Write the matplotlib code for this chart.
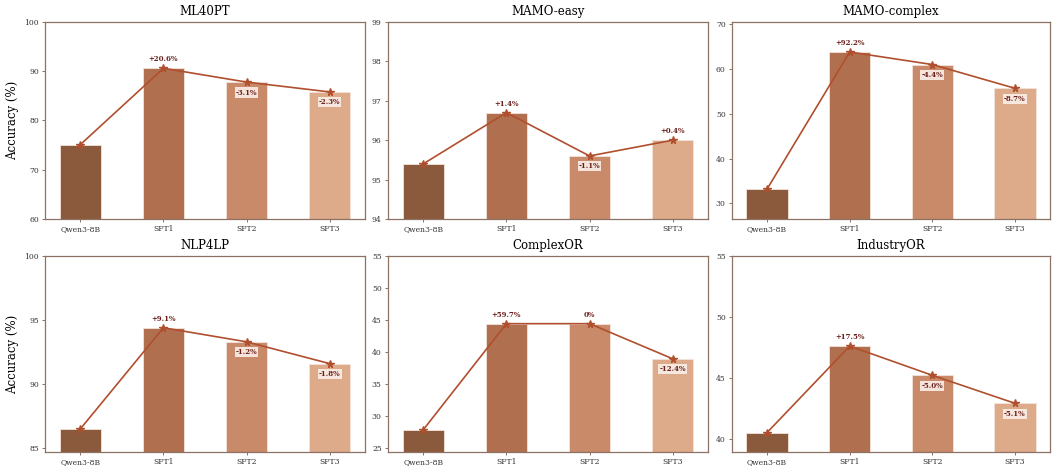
import numpy as np
import matplotlib
matplotlib.use('Agg')
import matplotlib.pyplot as plt

plt.rcParams['font.family'] = 'DejaVu Serif'

models = ['Qwen3-8B', 'SFT1', 'SFT2', 'SFT3']

titles = ['ML40PT', 'MAMO-easy', 'MAMO-complex', 'NLP4LP', 'ComplexOR', 'IndustryOR']

ml40pt = [75.1, 90.6, 87.8, 85.8]
mamo_easy = [95.4, 96.7, 95.6, 96.0]
mamo_complex = [33.2, 63.8, 61.0, 55.7]
nlp4lp = [86.5, 94.4, 93.3, 91.6]
complexor = [27.8, 44.4, 44.4, 38.9]
industryor = [40.5, 47.6, 45.2, 42.9]

ml40pt_labels = ['+20.6%', '-3.1%', '-2.3%']
mamo_easy_labels = ['+1.4%', '-1.1%', '+0.4%']
mamo_complex_labels = ['+92.2%', '-4.4%', '-8.7%']
nlp4lp_labels = ['+9.1%', '-1.2%', '-1.8%']
complexor_labels = ['+59.7%', '0%', '-12.4%']
industryor_labels = ['+17.5%', '-5.0%', '-5.1%']

ylims = [(60, 100), (94, 99), (26.5, 70.5), (84.7, 100), (24.3, 55), (38.9, 55)]
yticks = [[60, 70, 80, 90, 100], [94, 95, 96, 97, 98, 99], [30, 40, 50, 60, 70],
          [85, 90, 95, 100], [25, 30, 35, 40, 45, 50, 55], [40, 45, 50, 55]]

all_vals = [ml40pt, mamo_easy, mamo_complex, nlp4lp, complexor, industryor]
all_labels = [ml40pt_labels, mamo_easy_labels, mamo_complex_labels,
              nlp4lp_labels, complexor_labels, industryor_labels]

bar_colors = ['#8b5a3c', '#b0704f', '#c98a69', '#ddaa8a']
line_color = '#b04f2e'
spine_color = '#8c7264'
text_color = '#6b1f1a'

fig = plt.figure(figsize=(10.52, 4.73), dpi=100)
W, H = 1052, 473
# axes boxes in pixels: left, right, top, bottom
cols = [(45, 365), (388, 708), (732, 1050)]
rows = [(22, 219), (256, 452)]

x = np.arange(len(models))
for i in range(6):
    r, c = divmod(i, 3)
    l, rr = cols[c]
    t, b = rows[r]
    ax = fig.add_axes([l / W, 1 - b / H, (rr - l) / W, (b - t) / H])
    vals = all_vals[i]
    ax.bar(x, vals, width=0.5, color=bar_colors, edgecolor='#f3e3da', linewidth=0.6, zorder=2)
    ax.plot(x, vals, color=line_color, marker='*', markersize=5.5, linewidth=1.2, zorder=3)
    for j, lab in enumerate(all_labels[i]):
        k = j + 1
        if lab.startswith('-'):
            ax.annotate(lab, (x[k], vals[k]), xytext=(0, -7.5), textcoords='offset points',
                        ha='center', va='center', fontsize=5, fontweight='bold',
                        color=text_color, zorder=4,
                        bbox=dict(boxstyle='square,pad=0.15', facecolor='#fbefe9',
                                  edgecolor='none', alpha=0.9))
        else:
            ax.annotate(lab, (x[k], vals[k]), xytext=(0, 6.5), textcoords='offset points',
                        ha='center', va='center', fontsize=5, fontweight='bold',
                        color=text_color, zorder=4)
    ax.set_ylim(*ylims[i])
    ax.set_yticks(yticks[i])
    ax.set_xticks(x)
    ax.set_xticklabels(models)
    ax.tick_params(labelsize=5.5, colors='#333333', length=2.5, width=0.7,
                   color=spine_color, pad=2)
    for s in ax.spines.values():
        s.set_color(spine_color)
        s.set_linewidth(0.9)
    ax.set_title(titles[i], fontsize=8.5, pad=5)
    if c == 0:
        ax.set_ylabel('Accuracy (%)', fontsize=8.5, labelpad=4)

fig.savefig('out.png', dpi=100)
